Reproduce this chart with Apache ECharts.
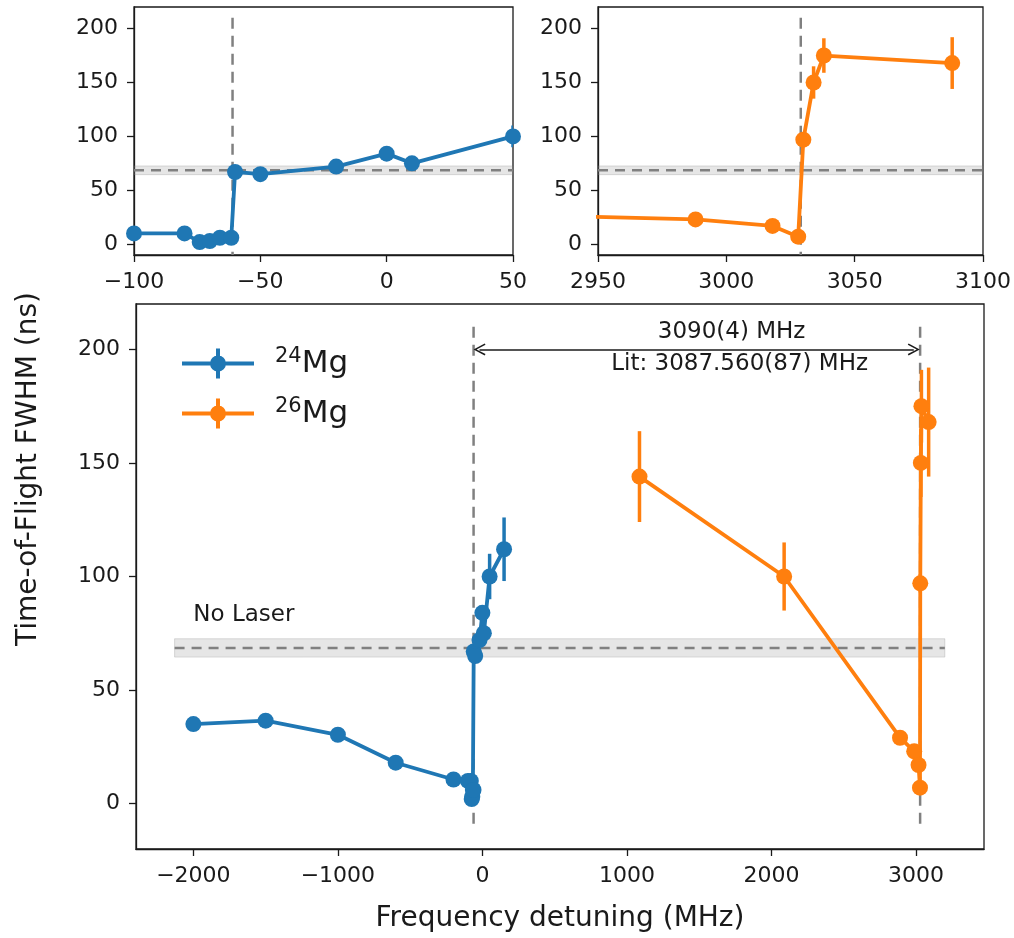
<!DOCTYPE html>
<html>
<head>
<meta charset="utf-8">
<script src="https://cdn.jsdelivr.net/npm/echarts@6/dist/echarts.min.js"></script>
<style>
  html, body { margin: 0; padding: 0; background: #fff; }
  #chart { width: 1014px; height: 938px; }
</style>
</head>
<body>
<div id="chart"></div>
<script>
// 24Mg: detuning (MHz), FWHM (ns), error (ns)
const mg24X = [-2000, -1500, -1000, -600, -200, -100, -80, -74, -70, -66, -61.5, -60, -50, -20, 0, 10, 50, 150];
const mg24Y = [35, 36.5, 30.3, 18, 10.6, 10, 10, 2, 3, 6, 6, 67, 65, 72, 84, 75, 100, 112];
const mg24Err = [1.5, 1.5, 1.5, 1.5, 1.5, 1.5, 1.5, 1.5, 1.5, 1.5, 1.5, 3, 3, 3, 3, 3, 10, 14];
// 26Mg
const mg26X = [1087, 2088, 2890, 2988, 3018, 3028, 3030, 3034, 3038, 3088];
const mg26Y = [144, 100, 29, 23, 17, 7, 97, 150, 175, 168];
const mg26Err = [20, 15, 1.5, 1.5, 1.5, 1.5, 4, 15, 16, 24];

// no-laser reference width and its uncertainty band
const noLaserY = 68.5;
const noLaserBand = [64.5, 72.6];
const noLaserX = [-2130, 3200];
// resonance positions
const resonanceX = [-61, 3029];
const resonanceY = [-10, 210];
const arrowX = [-20, 2985];
const arrowY = 200;

// ticks
const xTicksLeft = [-100, -50, 0, 50];
const xTicksRight = [2950, 3000, 3050, 3100];
const xTicksMain = [-2000, -1000, 0, 1000, 2000, 3000];
const yTicks = [0, 50, 100, 150, 200];

const FONT = 'DejaVu Sans';
const INK = '#1a1a1a';
const BLUE = '#1f77b4';
const ORANGE = '#ff7f0e';
const GREY = '#808080';

const grids = [
  { left: 134, top: 7, width: 379, height: 248 },
  { left: 598, top: 7, width: 385, height: 248 },
  { left: 136, top: 304, width: 848, height: 547 }
];
const xRange = [[-100, 50], [2950, 3100], [-2397, 3471]];
const yRange = [[-10, 220], [-10, 220], [-20, 220]];
const xTicks = [xTicksLeft, xTicksRight, xTicksMain];

const fmt = v => (v < 0 ? '\u2212' + Math.abs(v) : String(v));
const pairs = (xs, ys) => xs.map((x, i) => [x, ys[i]]);

const LEGEND_ICON = 'path://M0,13H72V17H0Z M34,0H38V30H34Z M28,15A8,8,0,1,1,44,15A8,8,0,1,1,28,15Z';
const CHEVRON = 'path://M6,0L12,11L10.7,11.8L6,3L1.3,11.8L0,11Z';

function axisCommon(ticks) {
  return {
    type: 'value',
    axisLine: { show: true, onZero: false, lineStyle: { color: INK, width: 1.3 } },
    axisTick: { show: true, length: 7, customValues: ticks, lineStyle: { color: INK, width: 1.3 } },
    axisLabel: { customValues: ticks, formatter: fmt, fontSize: 22, color: INK, margin: 16, fontFamily: FONT },
    splitLine: { show: false }
  };
}

const xAxes = grids.map((g, i) => Object.assign(axisCommon(xTicks[i]), {
  gridIndex: i, min: xRange[i][0], max: xRange[i][1]
}));
xAxes[2].name = 'Frequency detuning (MHz)';
xAxes[2].nameLocation = 'middle';
xAxes[2].nameGap = 56;
xAxes[2].nameTextStyle = { fontSize: 28, color: INK, fontFamily: FONT };

const yAxes = grids.map((g, i) => Object.assign(axisCommon(yTicks), {
  gridIndex: i, min: yRange[i][0], max: yRange[i][1]
}));

function errSeries(g, xs, ys, es, color) {
  return {
    type: 'custom', xAxisIndex: g, yAxisIndex: g, clip: true, z: 4, silent: true,
    data: xs.map((x, i) => [x, ys[i], es[i]]),
    encode: { x: 0, y: 1 },
    renderItem: function (params, api) {
      const x = api.value(0), y = api.value(1), e = api.value(2);
      const p0 = api.coord([x, y - e]);
      const p1 = api.coord([x, y + e]);
      return {
        type: 'line',
        shape: { x1: p0[0], y1: p0[1], x2: p1[0], y2: p1[1] },
        style: { stroke: color, lineWidth: 3.5 }
      };
    }
  };
}

function dataSeries(g, name, xs, ys, color) {
  return {
    name: name, type: 'line', xAxisIndex: g, yAxisIndex: g,
    data: pairs(xs, ys), symbol: 'circle', symbolSize: 16, showAllSymbol: true,
    lineStyle: { width: 3.8, color: color }, itemStyle: { color: color },
    z: 5, clip: true, silent: true
  };
}

let series = [];
grids.forEach((g, i) => {
  const x0 = Math.max(noLaserX[0], xRange[i][0]);
  const x1 = Math.min(noLaserX[1], xRange[i][1]);
  // no-laser band + dashed line
  series.push({
    type: 'line', xAxisIndex: i, yAxisIndex: i, silent: true, symbol: 'none', z: 2, clip: true,
    data: [[x0, noLaserY], [x1, noLaserY]],
    lineStyle: { color: GREY, width: 2.5, type: [10, 7] },
    markArea: {
      silent: true,
      itemStyle: { color: 'rgba(128,128,128,0.2)', borderColor: 'rgba(128,128,128,0.25)', borderWidth: 1 },
      data: [[{ coord: [x0, noLaserBand[0]] }, { coord: [x1, noLaserBand[1]] }]]
    }
  });
  // resonance markers
  resonanceX.forEach(rx => {
    series.push({
      type: 'line', xAxisIndex: i, yAxisIndex: i, silent: true, symbol: 'none', z: 2, clip: true,
      data: [[rx, resonanceY[1]], [rx, resonanceY[0]]],
      lineStyle: { color: GREY, width: 2.5, type: [11, 7] }
    });
  });
  series.push(errSeries(i, mg24X, mg24Y, mg24Err, BLUE));
  series.push(errSeries(i, mg26X, mg26Y, mg26Err, ORANGE));
  series.push(dataSeries(i, '24Mg', mg24X, mg24Y, BLUE));
  series.push(dataSeries(i, '26Mg', mg26X, mg26Y, ORANGE));
});

// isotope shift arrow
series.push({
  type: 'line', xAxisIndex: 2, yAxisIndex: 2, silent: true, data: [], z: 6,
  markLine: {
    silent: true, animation: false,
    symbol: [CHEVRON, CHEVRON], symbolSize: [12, 12],
    lineStyle: { color: INK, width: 1.5, type: 'solid' },
    label: { show: false },
    data: [[{ coord: [arrowX[0], arrowY] }, { coord: [arrowX[1], arrowY] }]]
  }
});

const chart = echarts.init(document.getElementById('chart'), null, { renderer: 'canvas' });
chart.setOption({
  animation: false,
  backgroundColor: '#fff',
  textStyle: { fontFamily: FONT },
  grid: grids.map(g => Object.assign({ show: true, borderColor: INK, borderWidth: 1.3, backgroundColor: 'transparent' }, g)),
  xAxis: xAxes,
  yAxis: yAxes,
  legend: {
    data: ['24Mg', '26Mg'], orient: 'vertical', left: 177, top: 341,
    itemWidth: 72, itemHeight: 30, itemGap: 17, icon: LEGEND_ICON, selectedMode: false,
    formatter: n => '{sup|' + n.slice(0, 2) + '}{iso|' + n.slice(2) + '}',
    textStyle: {
      rich: {
        sup: { fontSize: 21, color: INK, fontFamily: FONT, padding: [0, 0, 14, 16] },
        iso: { fontSize: 31, color: INK, fontFamily: FONT }
      }
    }
  },
  series: series
});

const px = (x, y) => chart.convertToPixel({ gridIndex: 2 }, [x, y]);
const noLaserPos = px(-2000, 80);
const notePos = px(1780, arrowY);
chart.setOption({
  graphic: [
    {
      type: 'text', x: 29, y: 469, rotation: Math.PI / 2,
      style: { text: 'Time-of-Flight FWHM (ns)', fontSize: 28, fill: INK, fontFamily: FONT, align: 'center', verticalAlign: 'middle' }
    },
    {
      type: 'text', x: noLaserPos[0], y: noLaserPos[1] + 5,
      style: { text: 'No Laser', fontSize: 23, fill: INK, fontFamily: FONT, align: 'left', verticalAlign: 'bottom' }
    },
    {
      type: 'text', x: notePos[0] - 8, y: notePos[1] - 17,
      style: { text: '3090(4) MHz', fontSize: 23, fill: INK, fontFamily: FONT, align: 'center', verticalAlign: 'middle' }
    },
    {
      type: 'text', x: notePos[0], y: notePos[1] + 15,
      style: { text: 'Lit: 3087.560(87) MHz', fontSize: 23, fill: INK, fontFamily: FONT, align: 'center', verticalAlign: 'middle' }
    }
  ]
});
</script>
</body>
</html>
